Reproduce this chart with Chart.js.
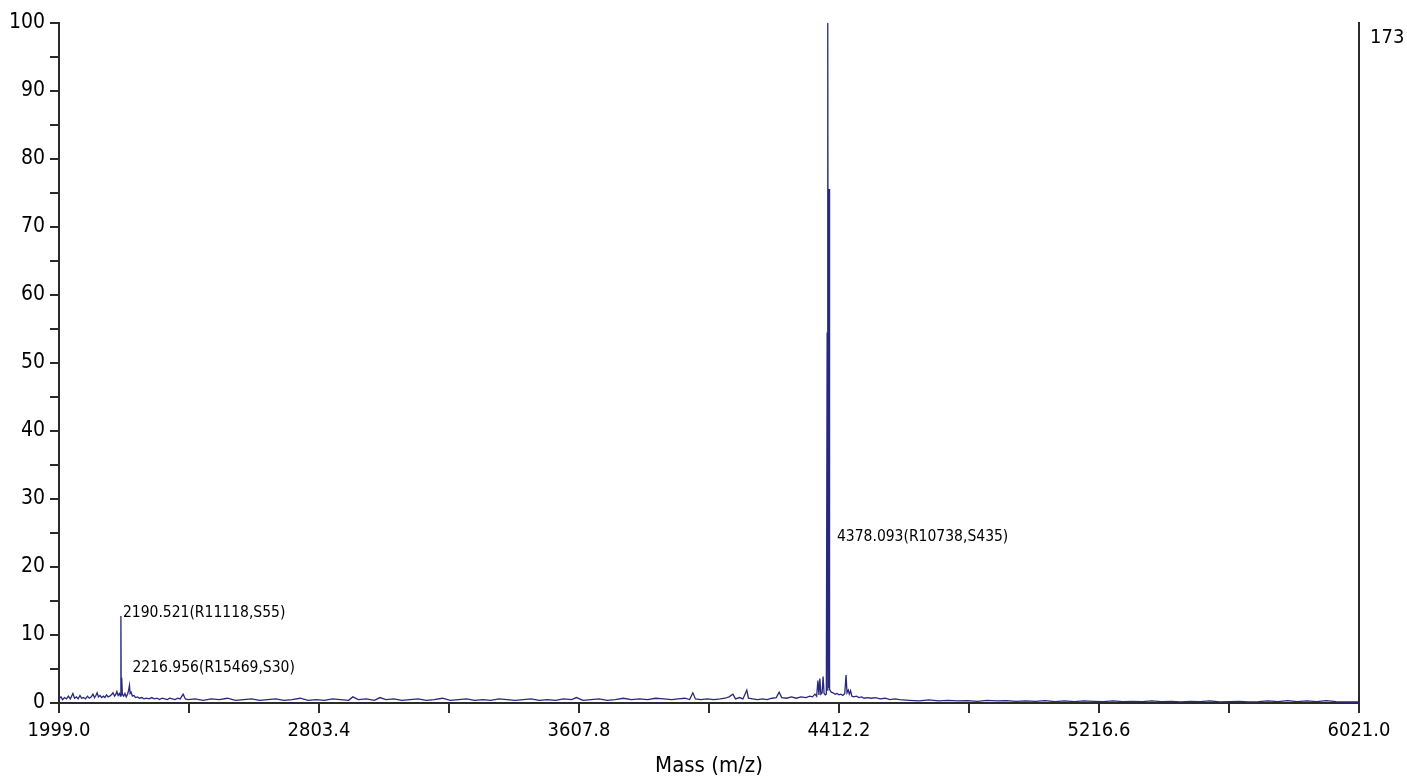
<!DOCTYPE html>
<html>
<head>
<meta charset="utf-8">
<title>Mass spectrum</title>
<script src="https://cdn.jsdelivr.net/npm/chart.js@4.4.0/dist/chart.umd.min.js"></script>
<style>
  body { margin: 0; background: #fff; }
  #wrap { width: 1407px; height: 779px; }
</style>
</head>
<body>
<div id="wrap"><canvas id="spec" width="1407" height="779"></canvas></div>
<script>
// m/z values and relative intensity (%)
const masses = [
  1999, 2005, 2010, 2016, 2022, 2028, 2034, 2042, 2047, 2053, 2058, 2064, 2069, 2075, 2081, 2087,
  2093, 2099, 2104, 2109, 2113, 2117, 2121, 2126, 2131, 2136, 2141, 2146, 2151, 2156, 2161, 2166,
  2171, 2175, 2178, 2182, 2186, 2189, 2190.5, 2191.5, 2193, 2195, 2199, 2203, 2207, 2211, 2214,
  2217, 2219, 2222, 2226, 2231, 2236, 2242, 2248, 2255, 2262, 2270, 2278, 2286, 2294, 2302, 2310,
  2318, 2326, 2334, 2342, 2350, 2358, 2366, 2374, 2383, 2390, 2398,
  2420, 2445, 2470, 2495, 2520, 2545, 2570, 2595, 2620, 2645, 2670, 2695, 2720, 2745, 2770, 2795,
  2820, 2845, 2870, 2895, 2908, 2925, 2950, 2975, 2992, 3010, 3035, 3060, 3085, 3110, 3135, 3160,
  3185, 3210, 3235, 3260, 3285, 3310, 3335, 3360, 3385, 3410, 3435, 3460, 3485, 3510, 3535, 3560,
  3585, 3600, 3620, 3645, 3670, 3695, 3720, 3745, 3770, 3795, 3820, 3845, 3870, 3895,
  3915, 3935, 3950, 3960, 3968, 3985, 4005, 4025, 4045, 4060, 4072, 4084, 4092, 4105, 4115, 4127,
  4132, 4145, 4160, 4175, 4190, 4205, 4218, 4227, 4235, 4250, 4265, 4280, 4295, 4310, 4322, 4330,
  4338, 4343, 4347, 4350, 4353, 4356, 4360, 4363, 4366, 4370, 4373,
  4375.5, 4376.8, 4378.1, 4379.6, 4381.5, 4383,
  4388, 4394, 4400, 4406, 4412, 4418, 4424, 4430, 4434, 4437, 4441, 4444, 4448, 4452, 4458, 4466,
  4474, 4482, 4490, 4500, 4512, 4525, 4540, 4555, 4570, 4585, 4600,
  4630, 4660, 4690, 4720, 4750, 4780, 4810, 4840, 4870, 4900, 4930, 4960, 4990, 5020, 5050, 5080,
  5110, 5140, 5170, 5200, 5230, 5260, 5290, 5320, 5350, 5380, 5410, 5440, 5470, 5500, 5530, 5560,
  5590, 5620, 5650, 5680, 5710, 5740, 5770, 5800, 5830, 5860, 5890, 5920, 5950, 5980, 6021
];
const intensity = [
  0.6, 0.9, 0.5, 0.8, 0.6, 1.0, 0.6, 1.4, 0.7, 0.9, 0.6, 1.1, 0.7, 0.8, 0.6, 1.0,
  0.7, 0.9, 1.3, 0.8, 1.1, 1.5, 0.9, 1.1, 0.8, 1.0, 0.8, 1.2, 0.9, 1.0, 1.2, 1.5,
  1.0, 1.3, 1.7, 1.1, 1.4, 1.0, 12.8, 1.2, 3.7, 1.3, 1.0, 1.4, 0.9, 1.3, 1.8,
  2.6, 1.4, 1.6, 1.0, 1.1, 0.8, 0.9, 0.7, 0.8, 0.6, 0.7, 0.6, 0.8, 0.6, 0.7, 0.5,
  0.7, 0.6, 0.5, 0.7, 0.6, 0.5, 0.7, 0.6, 1.3, 0.6, 0.5,
  0.6, 0.4, 0.6, 0.5, 0.7, 0.4, 0.5, 0.6, 0.4, 0.5, 0.6, 0.4, 0.5, 0.7, 0.4, 0.5,
  0.4, 0.6, 0.5, 0.4, 0.9, 0.5, 0.6, 0.4, 0.8, 0.5, 0.6, 0.4, 0.5, 0.6, 0.4, 0.5,
  0.7, 0.4, 0.5, 0.6, 0.4, 0.5, 0.4, 0.6, 0.5, 0.4, 0.5, 0.6, 0.4, 0.5, 0.4, 0.6,
  0.5, 0.8, 0.4, 0.5, 0.6, 0.4, 0.5, 0.7, 0.5, 0.6, 0.5, 0.7, 0.6, 0.5,
  0.6, 0.7, 0.5, 1.5, 0.6, 0.5, 0.6, 0.5, 0.6, 0.7, 0.9, 1.3, 0.6, 0.8, 0.6, 1.9,
  0.7, 0.6, 0.5, 0.6, 0.5, 0.7, 0.8, 1.6, 0.8, 0.7, 0.9, 0.7, 0.9, 0.8, 1.0, 0.9,
  1.3, 1.0, 3.3, 1.2, 3.6, 1.3, 1.5, 3.9, 1.4, 1.2, 1.3,
  54.5, 1.8, 100, 2.2, 75.6, 2.0,
  1.6, 1.5, 1.3, 1.4, 1.2, 1.3, 1.1, 1.4, 4.1, 1.5, 1.9, 1.3, 1.8, 1.0, 0.9, 1.0,
  0.8, 0.9, 0.7, 0.8, 0.7, 0.8, 0.6, 0.7, 0.5, 0.6, 0.5,
  0.4, 0.3, 0.45, 0.3, 0.4, 0.3, 0.35, 0.25, 0.4, 0.3, 0.35, 0.25, 0.3, 0.25, 0.35, 0.2,
  0.3, 0.2, 0.3, 0.25, 0.2, 0.3, 0.2, 0.25, 0.2, 0.3, 0.2, 0.25, 0.15, 0.25, 0.2, 0.3,
  0.15, 0.2, 0.25, 0.15, 0.2, 0.3, 0.2, 0.35, 0.2, 0.3, 0.2, 0.35, 0.2, 0.15, 0.15
];

const xTicks = [1999.0, 2401.2, 2803.4, 3205.6, 3607.8, 4010.0, 4412.2, 4814.4, 5216.6, 5618.8, 6021.0];
const xTickLabels = ['1999.0', '', '2803.4', '', '3607.8', '', '4412.2', '', '5216.6', '', '6021.0'];
const maxCounts = '173';

const peakLabels = ['2190.521(R11118,S55)', '2216.956(R15469,S30)', '4378.093(R10738,S435)'];
const peakMasses = [2190.521, 2216.956, 4378.093];

const FONT = "'Liberation Sans Narrow', 'Arial Narrow', 'DejaVu Sans Condensed', Roboto, sans-serif";
const INK = '#000000';
const AXIS = '#2b2b2b';

// text beside the labelled peaks
const peakLabelPlugin = {
  id: 'peakLabels',
  afterDatasetsDraw(chart) {
    const ctx = chart.ctx;
    const x = chart.scales.x, y = chart.scales.y;
    const dx = [2, 3, 9];
    const level = [13.3, 5.1, 24.4];
    ctx.save();
    ctx.font = '15.5px ' + FONT;
    ctx.fillStyle = INK;
    ctx.textBaseline = 'middle';
    ctx.textAlign = 'left';
    peakLabels.forEach((txt, i) => {
      ctx.fillText(txt, x.getPixelForValue(peakMasses[i]) + dx[i], y.getPixelForValue(level[i]));
    });
    ctx.restore();
  }
};

new Chart(document.querySelector('#spec'), {
  type: 'line',
  data: {
    datasets: [{
      data: masses.map((m, i) => ({ x: m, y: intensity[i] })),
      borderColor: '#28287e',
      borderWidth: 1.3,
      pointRadius: 0,
      tension: 0,
      fill: false,
    }],
  },
  options: {
    responsive: false,
    animation: false,
    devicePixelRatio: 1,
    layout: { padding: { top: 19, right: 0, left: 0, bottom: 0 } },
    plugins: {
      legend: { display: false },
      tooltip: { enabled: false },
    },
    scales: {
      x: {
        type: 'linear',
        min: 1999,
        max: 6021,
        afterBuildTicks: (scale) => { scale.ticks = xTicks.map(v => ({ value: v })); },
        afterFit: (scale) => { scale.height = 76; },
        border: { display: true, color: AXIS, width: 2 },
        grid: { drawOnChartArea: false, drawTicks: true, tickLength: 10, color: AXIS, lineWidth: 2 },
        ticks: {
          autoSkip: false,
          maxRotation: 0,
          padding: 6,
          color: INK,
          font: { family: FONT, size: 20 },
          callback: (v, i) => xTickLabels[i],
        },
        title: {
          display: true,
          text: 'Mass (m/z)',
          color: INK,
          font: { family: FONT, size: 22 },
          padding: { top: 0, bottom: 0 },
        },
      },
      y: {
        position: 'left',
        min: 0,
        max: 100,
        afterFit: (scale) => { scale.width = 59; },
        border: { display: true, color: AXIS, width: 2 },
        grid: { drawOnChartArea: false, drawTicks: true, tickLength: 9, color: AXIS, lineWidth: 2 },
        ticks: {
          stepSize: 5,
          padding: 5,
          color: INK,
          font: { family: FONT, size: 21 },
          callback: (v) => (v % 10 === 0 ? String(v) : ''),
        },
      },
      y2: {
        position: 'right',
        min: 0,
        max: 173,
        afterBuildTicks: (scale) => { scale.ticks = [{ value: 173 }]; },
        afterFit: (scale) => { scale.width = 48; },
        border: { display: true, color: AXIS, width: 2 },
        grid: { drawOnChartArea: false, drawTicks: false },
        ticks: {
          padding: 11,
          labelOffset: 15,
          color: INK,
          font: { family: FONT, size: 20 },
          callback: () => maxCounts,
        },
      },
    },
  },
  plugins: [peakLabelPlugin],
});
</script>
</body>
</html>
